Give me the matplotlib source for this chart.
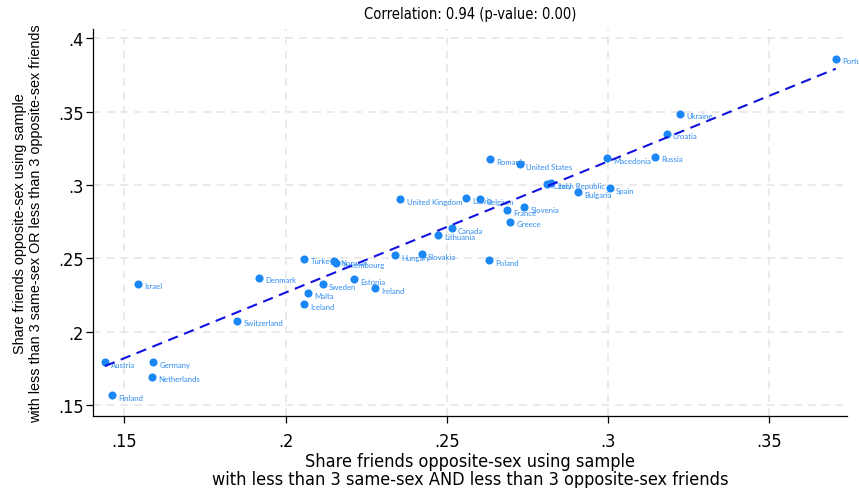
import numpy as np
import matplotlib.pyplot as plt
from matplotlib import font_manager

# Country values
countries = ['Portugal', 'Ukraine', 'Croatia', 'Macedonia', 'Russia', 'Spain',
             'Romania', 'United States', 'Czech Republic', 'Italy', 'Bulgaria',
             'Latvia', 'Belgium', 'France', 'Slovenia', 'Greece', 'Canada',
             'Lithuania', 'Slovakia', 'United Kingdom', 'Hungary', 'Poland',
             'Turkey', 'Norway', 'Luxembourg', 'Denmark', 'Estonia', 'Sweden',
             'Ireland', 'Malta', 'Iceland', 'Switzerland', 'Israel', 'Austria',
             'Germany', 'Netherlands', 'Finland']
share_and = [0.3706, 0.3222, 0.3182, 0.2996, 0.3147, 0.3006,
             0.2633, 0.2727, 0.2811, 0.2822, 0.2908,
             0.2560, 0.2604, 0.2688, 0.2740, 0.2697, 0.2515,
             0.2474, 0.2422, 0.2356, 0.2340, 0.2631,
             0.2058, 0.2149, 0.2155, 0.1918, 0.2213, 0.2115,
             0.2278, 0.2071, 0.2058, 0.1850, 0.1542, 0.1440,
             0.1590, 0.1586, 0.1463]
share_or = [0.3859, 0.3486, 0.3350, 0.3182, 0.3191, 0.2977,
            0.3175, 0.3141, 0.3007, 0.3011, 0.2950,
            0.2909, 0.2904, 0.2827, 0.2848, 0.2750, 0.2707,
            0.2661, 0.2529, 0.2902, 0.2523, 0.2486,
            0.2498, 0.2484, 0.2470, 0.2368, 0.2357, 0.2323,
            0.2296, 0.2261, 0.2187, 0.2075, 0.2327, 0.1791,
            0.1791, 0.1693, 0.1568]

xticks = [0.15, 0.2, 0.25, 0.3, 0.35]
xtick_labels = ['.15', '.2', '.25', '.3', '.35']
yticks = [0.15, 0.2, 0.25, 0.3, 0.35, 0.4]
ytick_labels = ['.15', '.2', '.25', '.3', '.35', '.4']

# pick a condensed font if one is installed, otherwise shrink DejaVu a bit
names = {f.name for f in font_manager.fontManager.ttflist}
condensed = [f for f in font_manager.fontManager.ttflist
             if f.name == 'DejaVu Sans' and 'ondensed' in str(f.stretch) + f.fname]
if 'Liberation Sans Narrow' in names:
    narrow = dict(family=['Liberation Sans Narrow', 'DejaVu Sans'])
    shrink = 1.0
elif condensed:
    narrow = dict(family=['DejaVu Sans'], stretch='condensed')
    shrink = 1.0
else:
    narrow = dict(family=['DejaVu Sans'])
    shrink = 0.9

x = np.array(share_and)
y = np.array(share_or)

fig = plt.figure(figsize=(8.59, 4.89), dpi=100)
ax = fig.add_axes([0.1086, 0.1466, 0.8771, 0.7921])

ax.scatter(x, y, s=34, color='#1a87f5', zorder=3, linewidths=0)
for name, xi, yi in zip(countries, x, y):
    ax.annotate(name, (xi, yi), xytext=(4.5, -1.5), textcoords='offset points',
                fontsize=5.6, color='#2f8cf0', va='center', ha='left',
                family=['Lato', 'DejaVu Sans'], annotation_clip=False)

# linear fit
b, a = np.polyfit(x, y, 1)
xs = np.array([x.min(), x.max()])
ax.plot(xs, a + b * xs, color='#1212e0', lw=1.5, dashes=(5, 3.2), zorder=4)

ax.set_xlim(0.1404, 0.374)
ax.set_ylim(0.1423, 0.4063)
ax.set_xticks(xticks)
ax.set_xticklabels(xtick_labels, fontsize=13 * shrink, **narrow)
ax.set_yticks(yticks)
ax.set_yticklabels(ytick_labels, fontsize=13 * shrink, **narrow)
ax.tick_params(direction='out', length=5, width=0.9, color='black')
ax.tick_params(axis='x', pad=6)
ax.tick_params(axis='y', pad=2)

ax.grid(True, color='#e4e4e4', lw=1.1, dashes=(5, 4))
ax.set_axisbelow(True)
for side in ['top', 'right']:
    ax.spines[side].set_visible(False)
ax.spines['left'].set_linewidth(0.9)
ax.spines['bottom'].set_linewidth(0.9)

ax.set_xlabel('Share friends opposite-sex using sample\n'
              'with less than 3 same-sex AND less than 3 opposite-sex friends',
              fontsize=13 * shrink, linespacing=1.0, labelpad=2, **narrow)
ax.set_ylabel('Share friends opposite-sex using sample\n'
              'with less than 3 same-sex OR less than 3 opposite-sex friends',
              family=['Liberation Sans', 'DejaVu Sans'], fontsize=10.4,
              linespacing=1.15, labelpad=11)
ax.set_title('Correlation: 0.94 (p-value: 0.00)', fontsize=10.5 * shrink, pad=8,
             **narrow)

fig.savefig('out.png', dpi=100)
